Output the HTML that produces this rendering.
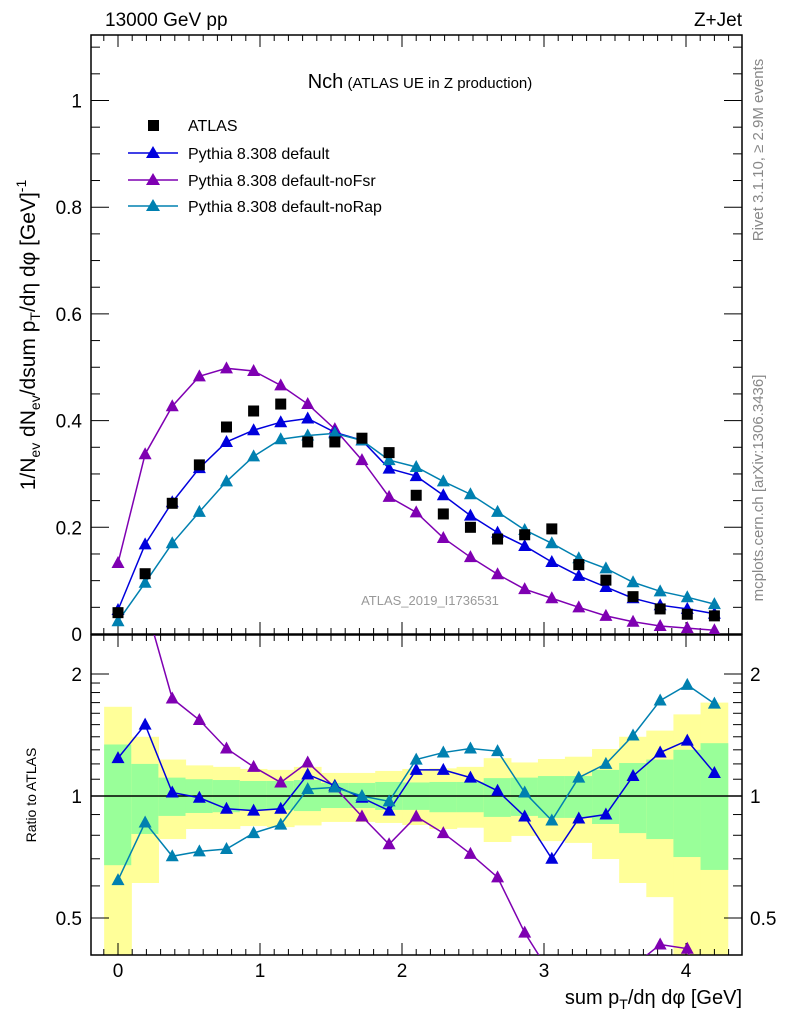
<!DOCTYPE html>
<html><head><meta charset="utf-8"><style>
html,body{margin:0;padding:0;background:#fff;}
svg{display:block;font-family:"Liberation Sans",sans-serif;}
</style></head><body>
<svg id="chart" width="786" height="1024" viewBox="0 0 786 1024">
<defs>
<clipPath id="clipMain"><rect x="91" y="35" width="651" height="599"/></clipPath>
<clipPath id="clipRatio"><rect x="91" y="635" width="651" height="320"/></clipPath>
</defs>
<g id="bands" clip-path="url(#clipRatio)"></g>
<g id="axes"></g>
<g id="mainSeries" clip-path="url(#clipMain)"></g>
<g id="ratioSeries" clip-path="url(#clipRatio)"></g>
<text x="105" y="26" font-size="19">13000 GeV pp</text>
<text x="742" y="26" font-size="19" text-anchor="end">Z+Jet</text>
<text x="420" y="88" text-anchor="middle"><tspan font-size="20">Nch</tspan><tspan font-size="15"> (ATLAS UE in Z production)</tspan></text>
<g>
<rect x="148" y="120" width="11" height="11" fill="#000"/>
<text x="188" y="131" font-size="16">ATLAS</text>
<line x1="128" y1="153" x2="178" y2="153" stroke="#0000dd" stroke-width="1.5"/>
<polygon points="153,146 160,158 146,158" fill="#0000dd"/>
<text x="188" y="159" font-size="16">Pythia 8.308 default</text>
<line x1="128" y1="180" x2="178" y2="180" stroke="#7f00b2" stroke-width="1.5"/>
<polygon points="153,173 160,185 146,185" fill="#7f00b2"/>
<text x="188" y="186" font-size="16">Pythia 8.308 default-noFsr</text>
<line x1="128" y1="206" x2="178" y2="206" stroke="#0080b0" stroke-width="1.5"/>
<polygon points="153,199 160,211 146,211" fill="#0080b0"/>
<text x="188" y="212" font-size="16">Pythia 8.308 default-noRap</text>
</g>
<text x="430" y="605" font-size="13" fill="#999" text-anchor="middle">ATLAS_2019_I1736531</text>
<text transform="translate(763,150) rotate(-90)" font-size="15" fill="#888" text-anchor="middle">Rivet 3.1.10, ≥ 2.9M events</text>
<text transform="translate(763,488) rotate(-90)" font-size="15" fill="#888" text-anchor="middle">mcplots.cern.ch [arXiv:1306.3436]</text>
<text transform="translate(35,335) rotate(-90)" font-size="21" text-anchor="middle">1/N<tspan font-size="14" dy="5">ev</tspan><tspan dy="-5"> dN</tspan><tspan font-size="14" dy="5">ev</tspan><tspan dy="-5">/dsum p</tspan><tspan font-size="14" dy="5">T</tspan><tspan dy="-5">/dη dφ  [GeV]</tspan><tspan font-size="14" dy="-9">-1</tspan></text>
<text transform="translate(36,795) rotate(-90)" font-size="14" text-anchor="middle">Ratio to ATLAS</text>
<text x="742" y="1004" font-size="20" text-anchor="end">sum p<tspan font-size="14" dy="5">T</tspan><tspan dy="-5">/dη dφ [GeV]</tspan></text>
</svg>
<script>
const xs = [0,0.191,0.382,0.573,0.764,0.955,1.146,1.336,1.527,1.718,1.909,2.1,2.291,2.482,2.673,2.864,3.055,3.245,3.436,3.627,3.818,4.009,4.2];
const atlas = [0.04,0.113,0.245,0.317,0.388,0.418,0.431,0.36,0.36,0.367,0.34,0.26,0.225,0.2,0.178,0.186,0.197,0.13,0.101,0.07,0.047,0.037,0.034];
const pyDefault = [0.045,0.168,0.247,0.311,0.36,0.382,0.397,0.404,0.378,0.363,0.31,0.296,0.26,0.222,0.19,0.165,0.135,0.109,0.088,0.067,0.054,0.047,0.038];
const pyNoFsr = [0.133,0.337,0.427,0.483,0.498,0.493,0.466,0.431,0.384,0.326,0.257,0.228,0.18,0.144,0.112,0.084,0.067,0.05,0.034,0.023,0.015,0.011,0.007];
const pyNoRap = [0.024,0.096,0.17,0.229,0.286,0.333,0.365,0.372,0.376,0.363,0.326,0.313,0.286,0.262,0.229,0.195,0.17,0.142,0.123,0.097,0.08,0.069,0.056];
const ratioDefault = [1.24,1.5,1.02,0.99,0.93,0.92,0.93,1.13,1.06,0.99,0.92,1.16,1.16,1.11,1.03,0.89,0.70,0.88,0.90,1.12,1.28,1.37,1.14];
const ratioNoFsr = [3.3,3.0,1.74,1.54,1.31,1.18,1.08,1.21,1.05,0.89,0.76,0.89,0.81,0.72,0.63,0.46,0.36,0.33,0.34,0.38,0.43,0.42,0.25];
const ratioNoRap = [0.62,0.86,0.71,0.73,0.74,0.81,0.85,1.04,1.05,1.0,0.97,1.23,1.28,1.31,1.29,1.02,0.87,1.11,1.2,1.41,1.72,1.88,1.69];
const yellowHi = [1.66,1.40,1.23,1.19,1.18,1.166,1.16,1.18,1.14,1.14,1.153,1.166,1.17,1.18,1.24,1.21,1.234,1.25,1.306,1.40,1.45,1.59,1.70];
const yellowLo = [0.3,0.61,0.783,0.829,0.829,0.843,0.838,0.846,0.863,0.863,0.858,0.848,0.829,0.835,0.77,0.797,0.774,0.766,0.699,0.61,0.563,0.3,0.3];
const greenHi = [1.34,1.20,1.11,1.10,1.095,1.089,1.089,1.095,1.077,1.077,1.083,1.08,1.083,1.083,1.107,1.11,1.12,1.12,1.16,1.206,1.23,1.30,1.35];
const greenLo = [0.675,0.806,0.893,0.908,0.912,0.924,0.924,0.918,0.934,0.934,0.924,0.924,0.912,0.912,0.888,0.893,0.883,0.883,0.853,0.81,0.783,0.707,0.657];
const xTicks = [0,1,2,3,4];
const yTicks = [0,0.2,0.4,0.6,0.8,1];
const rTicks = [0.5,1,2];

const NS = "http://www.w3.org/2000/svg";
const X = v => 118 + v*142;
const Y = v => 634 - v*533.5;
const R = r => 796 - Math.log2(r)*122;
const BW = 0.191;
function mk(parent, tag, attrs){const e=document.createElementNS(NS,tag);for(const k in attrs)e.setAttribute(k,attrs[k]);parent.appendChild(e);return e;}
const axes=document.getElementById('axes');
const bands=document.getElementById('bands');
xs.forEach((x,i)=>{
  const x0=X(x-BW/2), w=BW*142;
  const yb=mk(bands,'rect',{x:x0-0.3,y:R(yellowHi[i]),width:w+0.6,height:R(yellowLo[i])-R(yellowHi[i]),fill:'#ffff99'});
  
  
  const gb=mk(bands,'rect',{x:x0-0.3,y:R(greenHi[i]),width:w+0.6,height:R(greenLo[i])-R(greenHi[i]),fill:'#99ff99'});
  
  
});
mk(axes,'rect',{x:91,y:35,width:651,height:599,fill:'none',stroke:'#000','stroke-width':1.5});
mk(axes,'rect',{x:91,y:635,width:651,height:320,fill:'none',stroke:'#000','stroke-width':1.5});
mk(axes,'line',{x1:91,y1:796,x2:742,y2:796,stroke:'#000','stroke-width':1.5});
for(let t=-1;t<=44;t++){
  const v=t/10, px=X(v); if(px<92||px>741) continue;
  const L=(t%10===0)?12:6;
  [[35,1],[634,-1],[635,1],[955,-1]].forEach(([y,d])=>mk(axes,'line',{x1:px,y1:y,x2:px,y2:y+d*L,stroke:'#000','stroke-width':1}));
}
xTicks.forEach(v=>{const t=mk(axes,'text',{x:X(v),y:977,'font-size':19,'text-anchor':'middle'});t.textContent=v;

});
for(let t=0;t<=22;t++){
  const v=t*0.05, py=Y(v); if(py<36) continue;
  const L=(t%4===0)?18:9;
  mk(axes,'line',{x1:91,y1:py,x2:91+L,y2:py,stroke:'#000'});
  mk(axes,'line',{x1:742,y1:py,x2:742-L,y2:py,stroke:'#000'});
}
yTicks.forEach(v=>{const t=mk(axes,'text',{x:82,y:Y(v)+7,'font-size':19,'text-anchor':'end'});t.textContent=v;

});
const rMinor=[0.5,0.6,0.7,0.8,0.9,1,1.1,1.2,1.3,1.4,1.5,1.6,1.7,1.8,1.9,2];
rMinor.forEach(v=>{const py=R(v);const L=(rTicks.includes(v))?18:9;
  mk(axes,'line',{x1:91,y1:py,x2:91+L,y2:py,stroke:'#000'});
  mk(axes,'line',{x1:742,y1:py,x2:742-L,y2:py,stroke:'#000'});});
rTicks.forEach(v=>{
  const t=mk(axes,'text',{x:82,y:R(v)+7,'font-size':19,'text-anchor':'end'});t.textContent=v;
  
  
  const t2=mk(axes,'text',{x:750,y:R(v)+7,'font-size':19});t2.textContent=v;
  
  
});
function tri(g,px,py,c){return mk(g,'polygon',{points:`${px},${py-7} ${px+6.5},${py+5} ${px-6.5},${py+5}`,fill:c});}
function series(g,vals,fy,c,name){
  const pl=mk(g,'polyline',{points:xs.map((x,i)=>X(x)+','+fy(vals[i])).join(' '),fill:'none',stroke:c,'stroke-width':1.5});
  
  
  xs.forEach((x,i)=>{const m=tri(g,X(x),fy(vals[i]),c);
    
    });
}
const ms=document.getElementById('mainSeries');
series(ms,pyNoFsr,Y,'#7f00b2','nofsr');
series(ms,pyDefault,Y,'#0000dd','default');
series(ms,pyNoRap,Y,'#0080b0','norap');
xs.forEach((x,i)=>{const s=mk(ms,'rect',{x:X(x)-5.5,y:Y(atlas[i])-5.5,width:11,height:11,fill:'#000'});
  
  });
const rs=document.getElementById('ratioSeries');
series(rs,ratioNoFsr,R,'#7f00b2','ratio-nofsr');
series(rs,ratioDefault,R,'#0000dd','ratio-default');
series(rs,ratioNoRap,R,'#0080b0','ratio-norap');
</script>
</body></html>
